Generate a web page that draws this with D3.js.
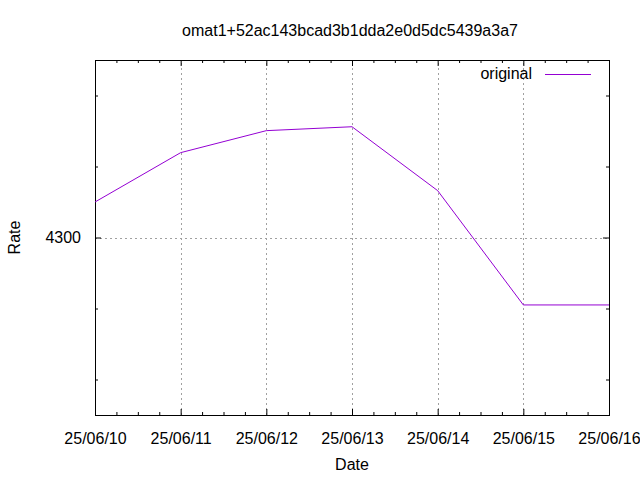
<!DOCTYPE html>
<html>
<head>
<meta charset="utf-8">
<script src="https://cdn.jsdelivr.net/npm/d3@7"></script>
<style>
  html, body { margin: 0; padding: 0; background: #fff; }
  text { font-family: "Liberation Sans", Arial, Helvetica, sans-serif; fill: #000; }
</style>
</head>
<body>
<script>
const title = "omat1+52ac143bcad3b1dda2e0d5dc5439a3a7";
const dates = ["2025-06-10", "2025-06-11", "2025-06-12", "2025-06-13", "2025-06-14", "2025-06-15", "2025-06-16"];
const rates = [4310.0, 4323.9, 4330.1, 4331.2, 4313.2, 4281.0, 4281.0];
const seriesName = "original";
const yMajorTicks = [4300];
const yMinorTicks = [4260, 4280, 4320, 4340];
const yDomain = [4250, 4350];

const W = 640, H = 480;
const m = { left: 95, right: 31, top: 60, bottom: 65 };
const parse = d3.timeParse("%Y-%m-%d");
const dts = dates.map(parse);
const data = dts.map((d, i) => ({ d, v: rates[i] }));

const svg = d3.select("body").append("svg").attr("width", W).attr("height", H);
const x = d3.scaleTime().domain([dts[0], dts[dts.length - 1]]).range([m.left, W - m.right]);
const y = d3.scaleLinear().domain(yDomain).range([H - m.bottom, m.top]);
const x0 = m.left, x1 = W - m.right, y0 = H - m.bottom, y1 = m.top;

// minor x ticks every 6 hours
const xMinor = d3.timeHour.every(6).range(dts[0], dts[dts.length - 1]).filter(t => t.getHours() !== 0);

// grid
const grid = svg.append("g").attr("stroke", "#a0a0a0").attr("stroke-width", 1).attr("stroke-dasharray", "2,3");
dts.slice(1, -1).forEach(t => {
  grid.append("line").attr("x1", Math.round(x(t)) + 0.5).attr("x2", Math.round(x(t)) + 0.5).attr("y1", y0).attr("y2", y1);
});
yMajorTicks.forEach(v => {
  grid.append("line").attr("x1", x0).attr("x2", x1).attr("y1", Math.round(y(v)) + 0.5).attr("y2", Math.round(y(v)) + 0.5);
});

function styleAxis(g) {
  g.select(".domain").remove();
  g.selectAll(".tick line").attr("stroke", "#000");
  g.selectAll("text").attr("font-size", 16).attr("font-family", "Liberation Sans, Arial, sans-serif");
}

// bottom axis (major, labelled)
svg.append("g").attr("transform", `translate(0,${y0})`)
  .call(d3.axisBottom(x).tickValues(dts).tickSize(-6).tickPadding(18).tickFormat(d3.timeFormat("%y/%m/%d")))
  .call(styleAxis);
svg.append("g").attr("transform", `translate(0,${y0})`)
  .call(d3.axisBottom(x).tickValues(xMinor).tickSize(-3).tickFormat(""))
  .call(styleAxis);
// top axis mirror
svg.append("g").attr("transform", `translate(0,${y1})`)
  .call(d3.axisTop(x).tickValues(dts).tickSize(-6).tickFormat(""))
  .call(styleAxis);
svg.append("g").attr("transform", `translate(0,${y1})`)
  .call(d3.axisTop(x).tickValues(xMinor).tickSize(-3).tickFormat(""))
  .call(styleAxis);
// left axis
svg.append("g").attr("transform", `translate(${x0},0)`)
  .call(d3.axisLeft(y).tickValues(yMajorTicks).tickSize(-6).tickPadding(14).tickFormat(d3.format("d")))
  .call(styleAxis);
svg.append("g").attr("transform", `translate(${x0},0)`)
  .call(d3.axisLeft(y).tickValues(yMinorTicks).tickSize(-3).tickFormat(""))
  .call(styleAxis);
// right axis mirror
svg.append("g").attr("transform", `translate(${x1},0)`)
  .call(d3.axisRight(y).tickValues(yMajorTicks).tickSize(-6).tickFormat(""))
  .call(styleAxis);
svg.append("g").attr("transform", `translate(${x1},0)`)
  .call(d3.axisRight(y).tickValues(yMinorTicks).tickSize(-3).tickFormat(""))
  .call(styleAxis);

// frame
svg.append("rect").attr("x", x0 + 0.5).attr("y", y1 + 0.5).attr("width", x1 - x0).attr("height", y0 - y1)
  .attr("fill", "none").attr("stroke", "#000").attr("stroke-width", 1);

// line
svg.append("path").datum(data)
  .attr("fill", "none").attr("stroke", "#9400d3").attr("stroke-width", 1)
  .attr("d", d3.line().x(d => x(d.d)).y(d => y(d.v)));

// legend
svg.append("text").attr("x", 532).attr("y", 79).attr("text-anchor", "end").attr("font-size", 16).text(seriesName);
svg.append("line").attr("x1", 545).attr("x2", 591).attr("y1", 74.5).attr("y2", 74.5)
  .attr("stroke", "#9400d3").attr("stroke-width", 1);

// title and axis labels
svg.append("text").attr("x", (x0 + x1) / 2 - 2).attr("y", 36).attr("text-anchor", "middle").attr("font-size", 16).text(title);
svg.append("text").attr("x", (x0 + x1) / 2).attr("y", 470).attr("text-anchor", "middle").attr("font-size", 16).text("Date");
svg.append("text").attr("transform", `translate(20,${(y0 + y1) / 2}) rotate(-90)`).attr("text-anchor", "middle").attr("font-size", 16).text("Rate");
</script>
</body>
</html>
